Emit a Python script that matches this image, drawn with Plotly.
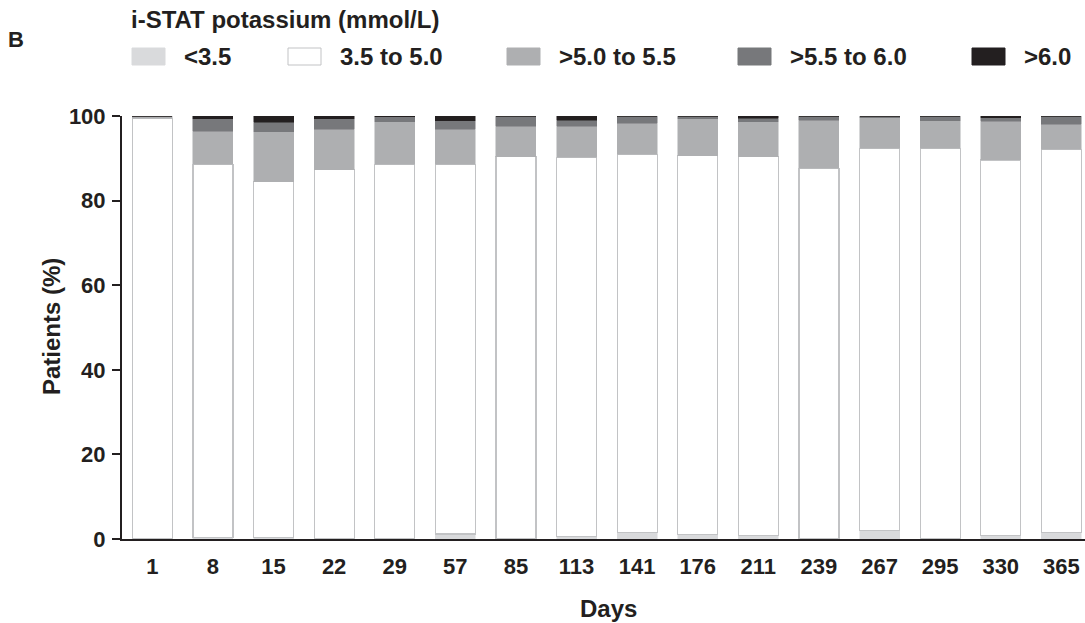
import plotly.graph_objects as go

# Study days and share of patients (%) in each i-STAT potassium band
days = ["1", "8", "15", "22", "29", "57", "85", "113", "141", "176",
        "211", "239", "267", "295", "330", "365"]
k_lt35 = [0, 0.4, 0.4, 0, 0, 1.2, 0, 0.5, 1.5, 1.0, 0.8, 0, 2.1, 0, 0.9, 1.6]
k_35_50 = [99.5, 88.2, 84.1, 87.3, 88.6, 87.4, 90.4, 89.7, 89.4, 89.6,
           89.6, 87.6, 90.3, 92.4, 88.7, 90.5]
k_50_55 = [0.5, 7.8, 11.8, 9.6, 10.1, 8.3, 7.2, 7.4, 7.4, 8.7,
           8.2, 11.4, 7.2, 6.5, 9.2, 5.9]
k_55_60 = [0, 3.0, 2.2, 2.5, 1.1, 2.0, 2.4, 1.45, 1.7, 0.7,
           0.9, 1.0, 0.4, 1.1, 0.8, 2.0]
k_gt60 = [0, 0.6, 1.5, 0.6, 0.2, 1.1, 0, 0.95, 0, 0,
          0.5, 0, 0, 0, 0.4, 0]

band_names = ["<3.5", "3.5 to 5.0", ">5.0 to 5.5", ">5.5 to 6.0", ">6.0"]
band_values = [k_lt35, k_35_50, k_50_55, k_55_60, k_gt60]
band_colors = ["#d9dadc", "#ffffff", "#aeafb1", "#77787b", "#231f20"]
band_lines = ["#d9dadc", "#c2c3c5", "#aeafb1", "#77787b", "#231f20"]

FONT = "Liberation Sans, Arial, sans-serif"
INK = "#231f20"
TEXT_SIZE = 24
TICK_SIZE = 22

W, H = 1085, 623
L, R, T, B = 122, 0, 116, 84
pw, ph = W - L - R, H - T - B


def px(x):
    return (x - L) / pw


def py(y):
    return (H - B - y) / ph


fig = go.Figure()
for name, vals, col, lc in zip(band_names, band_values, band_colors, band_lines):
    fig.add_trace(go.Bar(
        x=days, y=vals, name=name, marker_color=col,
        marker_line=dict(color=lc, width=1.2 if col == "#ffffff" else 0.5),
        showlegend=False,
    ))

# Legend drawn as swatches and labels above the plot
legend_x = [132, 288, 507, 738, 972]
shapes = []
annotations = []
for name, col, lc, x0 in zip(band_names, band_colors, band_lines, legend_x):
    shapes.append(dict(type="rect", xref="paper", yref="paper",
                       x0=px(x0), x1=px(x0 + 33), y0=py(65), y1=py(48),
                       fillcolor=col, line=dict(color=lc, width=1)))
    annotations.append(dict(text="<b>%s</b>" % name, xref="paper", yref="paper",
                            x=px(x0 + 50), y=py(57), xanchor="left", yanchor="middle",
                            showarrow=False, font=dict(family=FONT, size=TEXT_SIZE, color=INK)))

annotations += [
    dict(text="<b>i-STAT potassium (mmol/L)</b>", xref="paper", yref="paper",
         x=px(129), y=py(20), xanchor="left", yanchor="middle", showarrow=False,
         font=dict(family=FONT, size=TEXT_SIZE, color=INK)),
    dict(text="<b>B</b>", xref="paper", yref="paper",
         x=px(6), y=py(40), xanchor="left", yanchor="middle", showarrow=False,
         font=dict(family=FONT, size=TEXT_SIZE - 2, color=INK)),
    dict(text="<b>Patients (%)</b>", xref="paper", yref="paper",
         x=px(51), y=py(327), xanchor="center", yanchor="middle", textangle=-90,
         showarrow=False, font=dict(family=FONT, size=TEXT_SIZE, color=INK)),
    dict(text="<b>Days</b>", xref="paper", yref="paper",
         x=px(608), y=py(608), xanchor="center", yanchor="middle",
         showarrow=False, font=dict(family=FONT, size=TEXT_SIZE, color=INK)),
]

fig.update_layout(
    width=W, height=H,
    margin=dict(l=L, r=R, t=T, b=B, pad=0),
    paper_bgcolor="white", plot_bgcolor="white",
    barmode="stack", bargap=0.34,
    shapes=shapes, annotations=annotations,
    font=dict(family=FONT, size=TICK_SIZE, color=INK),
    xaxis=dict(
        type="category", range=[-0.5, 15.39],
        showline=True, linecolor=INK, linewidth=2,
        ticks="", showgrid=False, zeroline=False,
        tickfont=dict(family=FONT, size=TICK_SIZE, color=INK, weight="bold"),
        ticklabelstandoff=7,
    ),
    yaxis=dict(
        range=[0, 100], tickvals=[0, 20, 40, 60, 80, 100],
        showline=True, linecolor=INK, linewidth=2,
        ticks="outside", ticklen=8, tickwidth=2, tickcolor=INK,
        showgrid=False, zeroline=False,
        tickfont=dict(family=FONT, size=TICK_SIZE, color=INK, weight="bold"),
        ticklabelstandoff=2,
    ),
)

fig.write_html("out.html")
